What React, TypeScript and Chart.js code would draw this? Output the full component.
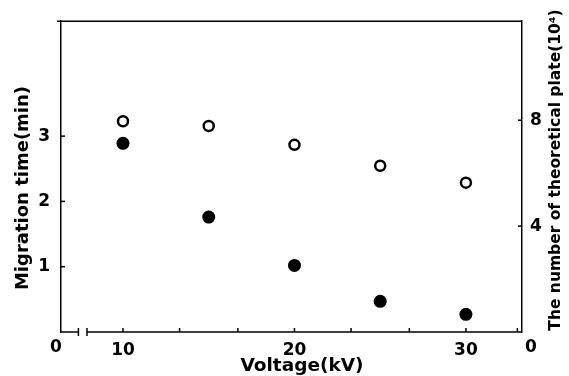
import React, { useEffect, useRef } from 'react';
import { Chart, registerables } from 'chart.js';

Chart.register(...registerables);

// ---- data ----
const voltage = [10, 15, 20, 25, 30];
const migrationTime = [2.89, 1.76, 1.02, 0.47, 0.27];
const theoreticalPlates = [7.96, 7.78, 7.07, 6.28, 5.64];

// ---- axis ticks / labels ----
const xTickValues = [10, 20, 30];
const xMinorTicks = [13.3, 16.7, 23.3, 26.7, 33];
const yLeftTicks = [1, 2, 3];
const yRightTicks = [4, 8];
const cornerLabels = ['0', '0'];
const xTitle = 'Voltage(kV)';
const yLeftTitle = 'Migration time(min)';
const yRightTitle = 'The number of theoretical plate(10\u2074)';

const X_MIN = 6.385;
const X_MAX = 33.27;
const Y_MAX = 4.76;
const Y2_MAX = 11.74;
const X_BREAK = [7.4, 7.9];

const FONT = 'DejaVu Sans';

const framePlugin = {
  id: 'frame',
  afterDraw(chart: any) {
    const ctx = chart.ctx;
    const { left, right, top, bottom } = chart.chartArea;
    const xs = chart.scales.x;
    const ys = chart.scales.y;
    const y2 = chart.scales.y2;
    const line = (x1: number, y1: number, x2: number, y2p: number) => {
      ctx.beginPath();
      ctx.moveTo(x1, y1);
      ctx.lineTo(x2, y2p);
      ctx.stroke();
    };
    ctx.save();
    ctx.strokeStyle = '#000';
    ctx.lineWidth = 1.5;
    // top line
    line(left - 4, top, right, top);
    // x axis with break
    const b0 = xs.getPixelForValue(X_BREAK[0]);
    const b1 = xs.getPixelForValue(X_BREAK[1]);
    line(left, bottom, b0, bottom);
    line(b1, bottom, right, bottom);
    line(b0, bottom - 4, b0, bottom + 4);
    line(b1, bottom - 4, b1, bottom + 4);
    // inward tick marks
    [...xTickValues, ...xMinorTicks].forEach((v) => {
      const px = xs.getPixelForValue(v);
      line(px, bottom, px, bottom - 4);
    });
    yLeftTicks.forEach((v) => {
      const py = ys.getPixelForValue(v);
      line(left, py, left + 4, py);
    });
    yRightTicks.forEach((v) => {
      const py = y2.getPixelForValue(v);
      line(right - 4, py, right, py);
    });

    // texts
    ctx.fillStyle = '#000';
    ctx.textAlign = 'center';
    ctx.textBaseline = 'middle';
    ctx.font = `bold 17px "${FONT}"`;
    ctx.fillText(cornerLabels[0], left - 5, bottom + 16);
    ctx.fillText(cornerLabels[1], right + 9, bottom + 16);

    ctx.font = `bold 18.5px "${FONT}"`;
    ctx.fillText(xTitle, 302, 366);

    ctx.save();
    ctx.translate(23, 188);
    ctx.rotate(-Math.PI / 2);
    ctx.font = `bold 18px "${FONT}"`;
    ctx.fillText(yLeftTitle, 0, 0);
    ctx.restore();

    ctx.save();
    ctx.translate(556, 170);
    ctx.rotate(-Math.PI / 2);
    ctx.font = `bold 15.5px "${FONT}"`;
    ctx.fillText(yRightTitle, 0, 0);
    ctx.restore();

    ctx.restore();
  },
};

export default function App() {
  const ref = useRef<HTMLCanvasElement | null>(null);

  useEffect(() => {
    if (!ref.current) return;
    const tickFont = { family: FONT, weight: 'bold' as const, size: 17 };
    const chart = new Chart(ref.current, {
      type: 'scatter',
      data: {
        datasets: [
          {
            label: 'Migration time',
            data: voltage.map((v, i) => ({ x: v, y: migrationTime[i] })),
            yAxisID: 'y',
            backgroundColor: '#000',
            borderColor: '#000',
            borderWidth: 0,
            pointRadius: 6.5,
            pointHoverRadius: 6.5,
          },
          {
            label: 'Theoretical plates',
            data: voltage.map((v, i) => ({ x: v, y: theoreticalPlates[i] })),
            yAxisID: 'y2',
            backgroundColor: '#fff',
            borderColor: '#000',
            borderWidth: 2.5,
            pointRadius: 5,
            pointHoverRadius: 5,
          },
        ],
      },
      options: {
        responsive: false,
        animation: false,
        events: [],
        layout: { padding: { top: 18, left: 0, right: 0, bottom: 0 } },
        plugins: { legend: { display: false }, tooltip: { enabled: false } },
        scales: {
          x: {
            type: 'linear',
            min: X_MIN,
            max: X_MAX,
            grid: { display: false, drawTicks: false },
            border: { display: false },
            afterBuildTicks: (s: any) => {
              s.ticks = xTickValues.map((v) => ({ value: v }));
            },
            afterFit: (s: any) => {
              s.height = 44;
            },
            ticks: {
              font: tickFont,
              color: '#000',
              padding: 8,
              maxRotation: 0,
              autoSkip: false,
              callback: (v: any) => String(v),
            },
          },
          y: {
            type: 'linear',
            position: 'left',
            min: 0,
            max: Y_MAX,
            grid: { display: false, drawTicks: false },
            border: { display: true, color: '#000', width: 1.5 },
            afterBuildTicks: (s: any) => {
              s.ticks = yLeftTicks.map((v) => ({ value: v }));
            },
            afterFit: (s: any) => {
              s.width = 61;
            },
            ticks: {
              font: tickFont,
              color: '#000',
              padding: 11,
              callback: (v: any) => String(v),
            },
          },
          y2: {
            type: 'linear',
            position: 'right',
            min: 0,
            max: Y2_MAX,
            grid: { display: false, drawTicks: false },
            border: { display: true, color: '#000', width: 1.5 },
            afterBuildTicks: (s: any) => {
              s.ticks = yRightTicks.map((v) => ({ value: v }));
            },
            afterFit: (s: any) => {
              s.width = 47;
            },
            ticks: {
              font: tickFont,
              color: '#000',
              padding: 8,
              callback: (v: any) => String(v),
            },
          },
        },
      },
      plugins: [framePlugin],
    } as any);
    return () => chart.destroy();
  }, []);

  return (
    <canvas
      ref={ref}
      width={569}
      height={376}
      style={{ position: 'absolute', left: 0, top: 0, width: 569, height: 376, background: '#fff' }}
    />
  );
}
